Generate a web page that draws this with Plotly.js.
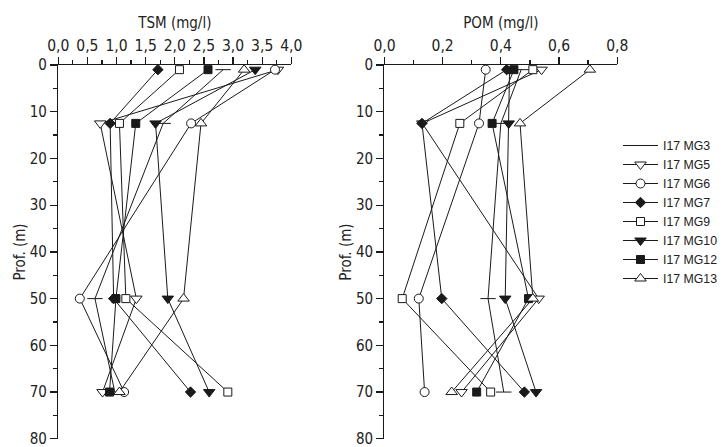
<!DOCTYPE html>
<html>
<head>
<meta charset="utf-8">
<script src="https://cdn.plot.ly/plotly-3.0.1.min.js"></script>
<style>html,body{margin:0;padding:0;background:#fff;}#chart{width:723px;height:447px;}</style>
</head>
<body>
<div id="chart"></div>
<script>
// ---- data ----
const depths = [1, 12.5, 50, 70];
const seriesNames = ["I17 MG3", "I17 MG5", "I17 MG6", "I17 MG7", "I17 MG9", "I17 MG10", "I17 MG12", "I17 MG13"];
const depthTicks = [0, 10, 20, 30, 40, 50, 60, 70, 80];

const tsmMG3  = [2.83, 1.80, 0.63, 0.97];
const tsmMG5  = [3.77, 0.72, 1.34, 0.76];
const tsmMG6  = [3.72, 2.28, 0.37, 1.13];
const tsmMG7  = [1.71, 0.89, 0.95, 2.27];
const tsmMG9  = [2.08, 1.05, 1.16, 2.91];
const tsmMG10 = [3.38, 1.67, 1.88, 2.59];
const tsmMG12 = [2.57, 1.33, 0.99, 0.88];
const tsmMG13 = [3.19, 2.45, 2.15, 1.05];

const pomMG3  = [0.47, 0.40, 0.356, 0.41];
const pomMG5  = [0.54, 0.13, 0.53, 0.265];
const pomMG6  = [0.348, 0.325, 0.118, 0.138];
const pomMG7  = [0.42, 0.129, 0.197, 0.481];
const pomMG9  = [0.51, 0.259, 0.061, 0.365];
const pomMG10 = [0.43, 0.427, 0.415, 0.521];
const pomMG12 = [0.445, 0.37, 0.495, 0.317];
const pomMG13 = [0.706, 0.466, 0.51, 0.231];

const xTitle1 = "TSM (mg/l)";
const xTitle2 = "POM (mg/l)";
const yTitle = "Prof. (m)";

// ---- styles ----
const tsmSeries = [tsmMG3, tsmMG5, tsmMG6, tsmMG7, tsmMG9, tsmMG10, tsmMG12, tsmMG13];
const pomSeries = [pomMG3, pomMG5, pomMG6, pomMG7, pomMG9, pomMG10, pomMG12, pomMG13];
const INK = '#1a1a1a';
const markerStyles = [
  {symbol: 'line-ew', size: 11, color: INK},
  {symbol: 'triangle-down', size: 10, color: '#fff'},
  {symbol: 'circle', size: 9, color: '#fff'},
  {symbol: 'diamond', size: 8, color: INK},
  {symbol: 'square', size: 8, color: '#fff'},
  {symbol: 'triangle-down', size: 10, color: INK},
  {symbol: 'square', size: 8, color: INK},
  {symbol: 'triangle-up', size: 10, color: '#fff'}
];

const traces = [];
function addSet(values, xa, ya, showLegend) {
  values.forEach((vals, i) => {
    const ms = markerStyles[i];
    traces.push({
      type: 'scatter', mode: 'lines+markers',
      x: vals, y: depths, xaxis: xa, yaxis: ya,
      name: seriesNames[i], legendgroup: seriesNames[i], showlegend: showLegend,
      line: {color: INK, width: 1},
      marker: {symbol: ms.symbol, size: ms.size, color: ms.color, line: {color: INK, width: 1}},
      cliponaxis: false, hoverinfo: 'skip'
    });
  });
}
addSet(tsmSeries, 'x', 'y', true);
addSet(pomSeries, 'x2', 'y2', false);

const FONT = '"Liberation Sans Narrow", "Arial Narrow", "DejaVu Sans Condensed", sans-serif';
const W = 723, H = 447;
const yTop = 65, yBot = 439;
const yDom = [1 - yBot / H, 1 - yTop / H];

function xAxis(dom, range, dtick, minorD, title, anchor) {
  return {
    domain: dom, range: range, side: 'top', anchor: anchor,
    tick0: 0, dtick: dtick, tickformat: '.1f',
    ticks: 'outside', ticklen: 7, tickwidth: 1.3, tickcolor: INK,
    minor: {dtick: minorD, ticks: 'outside', ticklen: 4, tickwidth: 1.3, tickcolor: INK, showgrid: false},
    showline: true, linecolor: INK, linewidth: 1.3,
    showgrid: false, zeroline: false,
    ticklabeloverflow: 'allow',
    tickfont: {family: FONT, size: 15.5, color: '#222'},
    title: {text: title, standoff: 4, font: {family: FONT, size: 15, color: '#222'}},
    fixedrange: true
  };
}
function yAxis(anchor) {
  return {
    domain: yDom, range: [80.05, 0], anchor: anchor,
    tickmode: 'array', tickvals: depthTicks, ticktext: depthTicks.map(String),
    ticks: 'outside', ticklen: 7, tickwidth: 1.3, tickcolor: INK,
    minor: {tickvals: [5, 15, 25, 35, 45, 55, 65, 75], ticks: 'outside', ticklen: 4, tickwidth: 1.3, tickcolor: INK, showgrid: false},
    showline: true, linecolor: INK, linewidth: 1.3,
    showgrid: false, zeroline: false,
    ticklabeloverflow: 'allow',
    tickfont: {family: FONT, size: 15, color: '#222'},
    title: {text: yTitle, standoff: 0, font: {family: FONT, size: 15, color: '#222'}},
    fixedrange: true
  };
}

const layout = {
  width: W, height: H,
  margin: {l: 0, r: 0, t: 0, b: 0},
  paper_bgcolor: '#fff', plot_bgcolor: '#fff',
  separators: ', ',
  font: {family: FONT, size: 15, color: '#222'},
  xaxis: xAxis([59 / W, 295 / W], [0, 4], 0.5, 0.25, xTitle1, 'y'),
  yaxis: yAxis('x'),
  xaxis2: xAxis([389.3 / W, 625 / W], [0, 0.8], 0.2, 0.1, xTitle2, 'y2'),
  yaxis2: yAxis('x2'),
  showlegend: true,
  legend: {
    x: 626 / W, y: 1 - 131 / H, xanchor: 'left', yanchor: 'top',
    bgcolor: 'rgba(0,0,0,0)', borderwidth: 0,
    font: {family: '"Liberation Sans", Arial, sans-serif', size: 12.3, color: '#222'},
    itemwidth: 35, traceorder: 'normal'
  }
};

Plotly.newPlot('chart', traces, layout, {staticPlot: true, displayModeBar: false});
</script>
</body>
</html>
